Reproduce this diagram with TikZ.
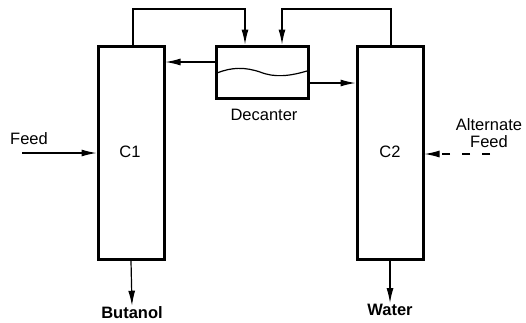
\documentclass[tikz,border=0pt]{standalone}
\usepackage{fontspec}
\setmainfont{Liberation Sans}
\usetikzlibrary{arrows.meta,positioning}

\tikzset{
  column/.style={draw,line width=3pt,minimum width=66pt,minimum height=213pt,inner sep=0pt},
  vessel/.style={draw,line width=3pt,minimum width=92pt,minimum height=52pt,inner sep=0pt},
  flow/.style={line width=1.2pt,-{Latex[length=15pt,width=7pt]}},
}

\begin{document}
\begin{tikzpicture}[x=1pt,y=-1pt,every node/.style={font=\fontsize{16.5}{18}\selectfont}]
\useasboundingbox (0,0) rectangle (526,322);
% columns and decanter
\node[column] (c1) at (131,153) {};
\node[column] (c2) at (390,153) {};
\node[vessel] (dec) at (262,72) {};
\node at (130,152) {C1};
\node at (390,152) {C2};
\node (declabel) at (264,115) {Decanter};
% interface in the decanter
\draw[line width=1.2pt] (217,73) .. controls (232,67) and (245,67) .. (260,72)
  .. controls (275,78) and (290,76) .. (307,71);
% overheads to decanter
\coordinate (topl) at (133,9);
\coordinate (topr) at (391,9);
\draw[flow] (c1.north -| topl) -- (topl) -| ([xshift=-17pt]dec.north);
\draw[flow] (c2.north -| topr) -- (topr) -| ([xshift=20pt]dec.north);
% decanter returns
\coordinate (retl) at ([yshift=10pt]dec.west);
\coordinate (retr) at ([yshift=-11pt]dec.east);
\draw[flow] (retl) -- (c1.east |- retl);
\draw[flow] (retr) -- (c2.west |- retr);
% feeds
\node (feed) at (29,139) {Feed};
\coordinate (feedin) at (22,153);
\draw[flow] (feedin) -- (c1.west |- feedin);
\node[align=center] (altfeed) at (489,133) {Alternate\\[-1pt]Feed};
\coordinate (altin) at (490,154);
\draw[flow,dash pattern=on 8pt off 12pt] (altin) -- (c2.east |- altin);
% products
\node[inner sep=1pt] (butanol) at (132,313) {\bfseries Butanol};
\node[inner sep=1pt] (water) at (390,310) {\bfseries Water};
\draw[flow] (c1.south) -- (butanol.north);
\draw[flow] (c2.south) -- (water.north);
\end{tikzpicture}
\end{document}
